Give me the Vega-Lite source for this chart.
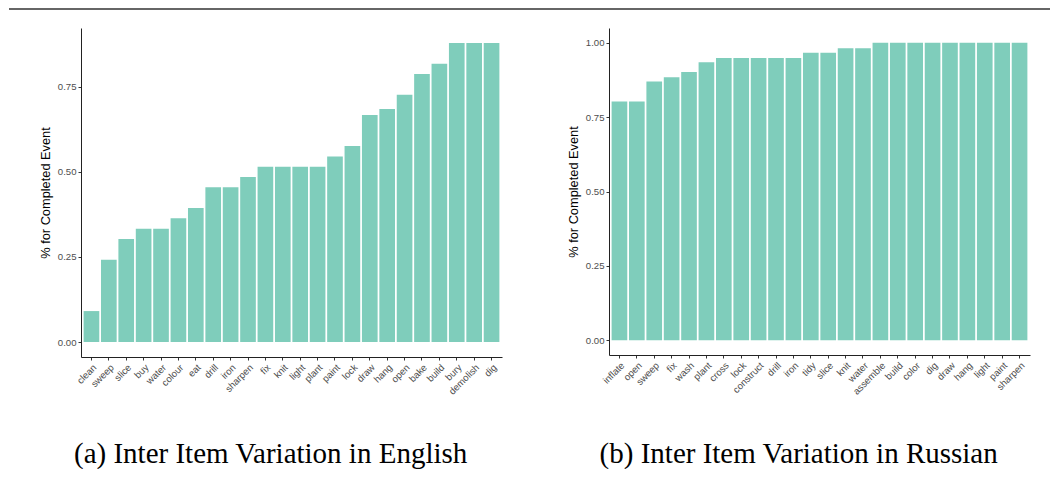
{
  "$schema": "https://vega.github.io/schema/vega-lite/v6.json",
  "background": "white",
  "padding": {"left": 8, "top": 8, "right": 0, "bottom": 0},
  "datasets": {
    "english": [
      {"verb": "clean", "share": 0.091},
      {"verb": "sweep", "share": 0.242},
      {"verb": "slice", "share": 0.303},
      {"verb": "buy", "share": 0.333},
      {"verb": "water", "share": 0.333},
      {"verb": "colour", "share": 0.364},
      {"verb": "eat", "share": 0.394},
      {"verb": "drill", "share": 0.455},
      {"verb": "iron", "share": 0.455},
      {"verb": "sharpen", "share": 0.485},
      {"verb": "fix", "share": 0.515},
      {"verb": "knit", "share": 0.515},
      {"verb": "light", "share": 0.515},
      {"verb": "plant", "share": 0.515},
      {"verb": "paint", "share": 0.545},
      {"verb": "lock", "share": 0.576},
      {"verb": "draw", "share": 0.667},
      {"verb": "hang", "share": 0.685},
      {"verb": "open", "share": 0.727},
      {"verb": "bake", "share": 0.788},
      {"verb": "build", "share": 0.818},
      {"verb": "bury", "share": 0.879},
      {"verb": "demolish", "share": 0.879},
      {"verb": "dig", "share": 0.879}
    ],
    "russian": [
      {"verb": "inflate", "share": 0.803},
      {"verb": "open", "share": 0.803},
      {"verb": "sweep", "share": 0.870},
      {"verb": "fix", "share": 0.884},
      {"verb": "wash", "share": 0.902},
      {"verb": "plant", "share": 0.935},
      {"verb": "cross", "share": 0.949},
      {"verb": "lock", "share": 0.949},
      {"verb": "construct", "share": 0.949},
      {"verb": "drill", "share": 0.949},
      {"verb": "iron", "share": 0.949},
      {"verb": "tidy", "share": 0.967},
      {"verb": "slice", "share": 0.967},
      {"verb": "knit", "share": 0.982},
      {"verb": "water", "share": 0.982},
      {"verb": "assemble", "share": 1.0},
      {"verb": "build", "share": 1.0},
      {"verb": "color", "share": 1.0},
      {"verb": "dig", "share": 1.0},
      {"verb": "draw", "share": 1.0},
      {"verb": "hang", "share": 1.0},
      {"verb": "light", "share": 1.0},
      {"verb": "paint", "share": 1.0},
      {"verb": "sharpen", "share": 1.0}
    ],
    "pageRule": [{"edge": 1}]
  },
  "config": {
    "view": {"stroke": null},
    "axis": {
      "grid": false,
      "domainColor": "#222222",
      "domainWidth": 1,
      "tickColor": "#333333",
      "tickSize": 3,
      "labelColor": "#4d4d4d",
      "labelFont": "Liberation Sans",
      "labelFontSize": 9.6,
      "titleFont": "Liberation Sans",
      "titleFontSize": 12.8,
      "titleFontWeight": "normal",
      "titleColor": "#000000"
    },
    "title": {
      "font": "Liberation Serif",
      "fontSize": 29,
      "fontWeight": "normal",
      "color": "#000000",
      "orient": "bottom",
      "frame": "bounds",
      "anchor": "middle",
      "offset": 44
    }
  },
  "spacing": 17,
  "vconcat": [
    {
      "data": {"name": "pageRule"},
      "width": 1042,
      "height": 1,
      "mark": {"type": "rule", "color": "#333333", "strokeWidth": 1.3},
      "encoding": {
        "y": {"field": "edge", "type": "quantitative", "scale": {"domain": [0, 1]}, "axis": null}
      }
    },
    {
      "spacing": 0,
      "hconcat": [
        {
          "data": {"name": "pageRule"},
          "width": 30,
          "height": 1,
          "view": {"fill": "transparent", "stroke": null},
          "mark": {"type": "rule", "opacity": 0},
          "encoding": {}
        },
        {
          "spacing": 65,
          "hconcat": [
            {
              "data": {"name": "english"},
              "width": 421,
              "height": 329,
              "title": {"text": "(a) Inter Item Variation in English"},
              "mark": {"type": "bar", "color": "#7fcdbb"},
              "encoding": {
                "x": {
                  "field": "verb", "type": "nominal", "sort": null,
                  "scale": {"paddingInner": 0.1, "paddingOuter": 0.15},
                  "axis": {"title": null, "labelAngle": -45, "labelAlign": "right", "labelBaseline": "top", "labelPadding": 2}
                },
                "y": {
                  "field": "share", "type": "quantitative",
                  "scale": {"domain": [-0.044, 0.923], "nice": false, "zero": false},
                  "axis": {"title": "% for Completed Event", "values": [0, 0.25, 0.5, 0.75], "format": ".2f", "titlePadding": 5}
                }
              }
            },
            {
              "data": {"name": "russian"},
              "width": 421,
              "height": 327,
              "title": {"text": "(b) Inter Item Variation in Russian"},
              "mark": {"type": "bar", "color": "#7fcdbb"},
              "encoding": {
                "x": {
                  "field": "verb", "type": "nominal", "sort": null,
                  "scale": {"paddingInner": 0.1, "paddingOuter": 0.15},
                  "axis": {"title": null, "labelAngle": -45, "labelAlign": "right", "labelBaseline": "top", "labelPadding": 2}
                },
                "y": {
                  "field": "share", "type": "quantitative",
                  "scale": {"domain": [-0.05, 1.05], "nice": false, "zero": false},
                  "axis": {"title": "% for Completed Event", "values": [0, 0.25, 0.5, 0.75, 1], "format": ".2f", "titlePadding": 5}
                }
              }
            }
          ]
        }
      ]
    }
  ]
}
